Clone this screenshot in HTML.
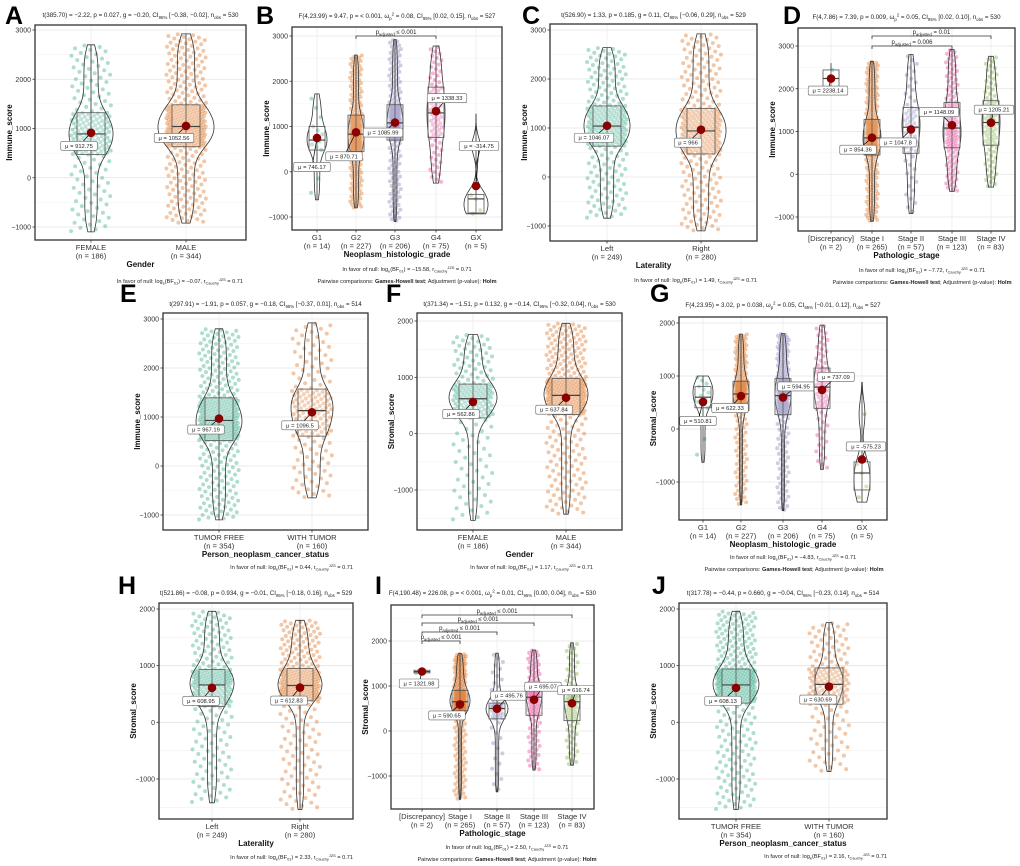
<!DOCTYPE html>
<html><head><meta charset="utf-8"><style>
html,body{margin:0;padding:0;background:#fff;}
svg{display:block;font-family:"Liberation Sans",Arial,sans-serif;}
</style></head><body>
<svg id="fig" width="1020" height="866" viewBox="0 0 1020 866" xmlns="http://www.w3.org/2000/svg"></svg>
<script>
// ---------- DATA (estimated from figure) ----------
const catsA=['FEMALE','MALE'];const nA=[186,344];
const meansA=[912.75,1052.56];const q1A=[470,630];const medA=[890,1040];const q3A=[1320,1480];const minA=[-1100,-920];const maxA=[2700,2920];
const catsB=['G1','G2','G3','G4','GX'];const nB=[14,227,206,75,5];
const meansB=[746.17,870.71,1085.99,1338.33,-314.75];const q1B=[480,450,700,760,-910];const medB=[700,830,1080,1300,-600];const q3B=[1000,1250,1480,1870,-500];const minB=[-620,-800,-1100,-250,-930];const maxB=[1720,2580,2920,2780,1280];
const catsC=['Left','Right'];const nC=[249,280];
const meansC=[1046.07,966];const q1C=[630,470];const medC=[1040,940];const q3C=[1450,1400];const minC=[-840,-1100];const maxC=[2640,2920];
const catsD=['[Discrepancy]','Stage I','Stage II','Stage III','Stage IV'];const nD=[2,265,57,123,83];
const meansD=[2238.14,854.36,1047.8,1148.09,1205.21];const q1D=[2020,450,490,620,680];const medD=[2240,850,1100,1080,1210];const q3D=[2440,1280,1560,1680,1720];const minD=[2020,-1100,-920,-400,-300];const maxD=[2600,2640,2800,2920,2760];
const catsE=['TUMOR FREE','WITH TUMOR'];const nE=[354,160];
const meansE=[967.19,1096.5];const q1E=[520,610];const medE=[930,1130];const q3E=[1390,1570];const minE=[-1100,-650];const maxE=[2800,2920];
const catsF=['FEMALE','MALE'];const nF=[186,344];
const meansF=[562.86,637.84];const q1F=[280,340];const medF=[620,680];const q3F=[880,980];const minF=[-1540,-1430];const maxF=[1760,1960];
const catsG=['G1','G2','G3','G4','GX'];const nG=[14,227,206,75,5];
const meansG=[510.81,622.33,594.95,737.09,-575.23];const q1G=[400,350,270,390,-1150];const medG=[600,660,630,790,-830];const q3G=[800,900,950,1150,-620];const minG=[-630,-1430,-1540,-760,-1380];const maxG=[1000,1790,1800,1960,880];
const catsH=['Left','Right'];const nH=[249,280];
const meansH=[608.95,612.83];const q1H=[280,380];const medH=[660,650];const q3H=[930,950];const minH=[-1420,-1540];const maxH=[1960,1800];
const catsI=['[Discrepancy]','Stage I','Stage II','Stage III','Stage IV'];const nI=[2,265,57,123,83];
const meansI=[1321.98,590.65,495.76,695.07,616.74];const q1I=[1290,450,270,350,230];const medI=[1320,650,500,750,650];const q3I=[1350,900,620,1000,900];const minI=[1300,-1520,-1350,-870,-760];const maxI=[1340,1720,1730,1800,1960];
const catsJ=['TUMOR FREE','WITH TUMOR'];const nJ=[354,160];
const meansJ=[608.13,630.69];const q1J=[340,320];const medJ=[660,670];const q3J=[940,960];const minJ=[-1540,-870];const maxJ=[1960,1760];
const immuneTicks=[-1000,0,1000,2000,3000];const stromalTicks=[-1000,0,1000,2000];

// ---------- LAYOUT ----------
const C2=['#1B9E77','#D95F02'];const C5=['#1B9E77','#D95F02','#7570B3','#E7298A','#66A61E'];
const PAIR='Pairwise comparisons: *{Games-Howell test}; Adjustment (p-value): *{Holm}';
function bf(v){return 'In favor of null: log_{e}(BF_{01}) = '+v+', r_{Cauchy}^{JZS} = 0.71';}
const P=[
{L:'A',lx:5,ly:24,box:[35,25,246,240],yref:[3000,30,-1000,227],ticks:immuneTicks,xp:[91,186],yt:'Immune_score',xt:'Gender',cats:catsA,n:nA,m:meansA,q1:q1A,md:medA,q3:q3A,lo:minA,hi:maxA,col:C2,vw:[22,28],bw:14,jit:20,lab:[[-12,13],[-12,12]],
 sub:'t(385.70) = −2.22, p = 0.027, g = −0.20, CI_{95%} [−0.38, −0.02], n_{obs} = 530',subY:17,foot:[[bf('−0.07'),243,283,'end']]},
{L:'B',lx:256,ly:24,box:[292,27,502,230],yref:[3000,36,-1000,217],ticks:immuneTicks,xp:[317,356,395,436,476],yt:'Immune_score',xt:'Neoplasm_histologic_grade',cats:catsB,n:nB,m:meansB,q1:q1B,md:medB,q3:q3B,lo:minB,hi:maxB,col:C5,vw:[10,8,8,9,12],bw:8,jit:6,lab:[[-5,29],[-12,24],[-12,10],[11,-13],[3,-40]],
 sub:'F(4,23.99) = 9.47, p = < 0.001, ω_{p}^{2} = 0.08, CI_{95%} [0.02, 0.15], n_{obs} = 527',subY:18,brk:[[1,3,36,'p_{adjusted} ≤ 0.001']],foot:[[bf('−15.58'),407,271,'middle'],[PAIR,407,283,'middle']]},
{L:'C',lx:522,ly:24,box:[550,24,757,241],yref:[3000,30,-1000,226],ticks:immuneTicks,xp:[607,701],yt:'Immune_score',xt:'Laterality',cats:catsC,n:nC,m:meansC,q1:q1C,md:medC,q3:q3C,lo:minC,hi:maxC,col:C2,vw:[23,25],bw:14,jit:20,lab:[[-13,12],[-13,13]],
 sub:'t(526.90) = 1.33, p = 0.185, g = 0.11, CI_{95%} [−0.06, 0.29], n_{obs} = 529',subY:17,foot:[[bf('1.49'),757,282,'end']]},
{L:'D',lx:783,ly:24,box:[798,28,1015,231],yref:[3000,46,-1000,217],ticks:immuneTicks,xp:[831,872,911,952,991],yt:'Immune_score',xt:'Pathologic_stage',cats:catsD,n:nD,m:meansD,q1:q1D,md:medD,q3:q3D,lo:minD,hi:maxD,col:C5,vw:[8,9,9,9,9],bw:8,jit:6,lab:[[-3,12],[-14,12],[-13,13],[-13,-13],[3,-13]],
 sub:'F(4,7.86) = 7.39, p = 0.009, ω_{p}^{2} = 0.05, CI_{95%} [0.02, 0.10], n_{obs} = 530',subY:19,brk:[[1,4,36,'p_{adjusted} = 0.01'],[1,3,46,'p_{adjusted} = 0.006']],foot:[[bf('−7.72'),922,272,'middle'],[PAIR,922,284,'middle']]},
{L:'E',lx:120,ly:302,box:[163,313,368,530],yref:[3000,319,-1000,515],ticks:immuneTicks,xp:[219,312],yt:'Immune_score',xt:'Person_neoplasm_cancer_status',cats:catsE,n:nE,m:meansE,q1:q1E,md:medE,q3:q3E,lo:minE,hi:maxE,col:C2,vw:[23,21],bw:14,jit:20,lab:[[-13,11],[-12,13]],
 sub:'t(297.91) = −1.91, p = 0.057, g = −0.18, CI_{95%} [−0.37, 0.01], n_{obs} = 514',subY:306,foot:[[bf('0.44'),353,569,'end']]},
{L:'F',lx:386,ly:302,box:[417,313,622,530],yref:[2000,321,-1000,490],ticks:stromalTicks,xp:[473,566],yt:'Stromal_score',xt:'Gender',cats:catsF,n:nF,m:meansF,q1:q1F,md:medF,q3:q3F,lo:minF,hi:maxF,col:C2,vw:[24,22],bw:14,jit:20,lab:[[-12,12],[-12,12]],
 sub:'t(371.34) = −1.51, p = 0.132, g = −0.14, CI_{95%} [−0.32, 0.04], n_{obs} = 530',subY:306,foot:[[bf('1.17'),593,569,'end']]},
{L:'G',lx:650,ly:302,box:[679,317,887,520],yref:[2000,323,-1000,482],ticks:stromalTicks,xp:[703,741,783,822,862],yt:'Stromal_score',xt:'Neoplasm_histologic_grade',cats:catsG,n:nG,m:meansG,q1:q1G,md:medG,q3:q3G,lo:minG,hi:maxG,col:C5,vw:[10,8,8,8,8],bw:8,jit:6,lab:[[-5,19],[-11,12],[13,-11],[14,-13],[4,-13]],
 sub:'F(4,23.95) = 3.02, p = 0.038, ω_{p}^{2} = 0.05, CI_{95%} [−0.01, 0.12], n_{obs} = 527',subY:307,foot:[[bf('−4.83'),793,559,'middle'],[PAIR,794,571,'middle']]},
{L:'H',lx:118,ly:594,box:[159,603,353,819],yref:[2000,609,-1000,779],ticks:stromalTicks,xp:[212,300],yt:'Stromal_score',xt:'Laterality',cats:catsH,n:nH,m:meansH,q1:q1H,md:medH,q3:q3H,lo:minH,hi:maxH,col:C2,vw:[22,22],bw:13,jit:20,lab:[[-11,13],[-11,13]],
 sub:'t(521.86) = −0.08, p = 0.934, g = −0.01, CI_{95%} [−0.18, 0.16], n_{obs} = 529',subY:595,foot:[[bf('2.33'),353,859,'end']]},
{L:'I',lx:375,ly:594,box:[391,605,594,809],yref:[2000,641,-1000,776],ticks:stromalTicks,xp:[422,460,497,534,572],yt:'Stromal_score',xt:'Pathologic_stage',cats:catsI,n:nI,m:meansI,q1:q1I,md:medI,q3:q3I,lo:minI,hi:maxI,col:C5,vw:[8,10,11,8,8],bw:8,jit:6,lab:[[-3,12],[-13,11],[12,-13],[9,-13],[4,-13]],
 sub:'F(4,190.48) = 226.08, p = < 0.001, ω_{p}^{2} = 0.01, CI_{95%} [0.00, 0.04], n_{obs} = 530',subY:595,brk:[[0,1,641,'p_{adjusted} ≤ 0.001'],[0,2,632,'p_{adjusted} ≤ 0.001'],[0,3,623,'p_{adjusted} ≤ 0.001'],[0,4,615,'p_{adjusted} ≤ 0.001']],foot:[[bf('2.50'),507,849,'middle'],[PAIR,507,861,'middle']]},
{L:'J',lx:652,ly:594,box:[679,603,887,819],yref:[2000,609,-1000,779],ticks:stromalTicks,xp:[736,829],yt:'Stromal_score',xt:'Person_neoplasm_cancer_status',cats:catsJ,n:nJ,m:meansJ,q1:q1J,md:medJ,q3:q3J,lo:minJ,hi:maxJ,col:C2,vw:[23,14],bw:14,jit:20,lab:[[-13,13],[-11,13]],
 sub:'t(317.78) = −0.44, p = 0.660, g = −0.04, CI_{95%} [−0.23, 0.14], n_{obs} = 514',subY:595,foot:[[bf('2.16'),887,858,'end']]}
];

// ---------- RENDER ----------
const NS='http://www.w3.org/2000/svg';const svg=document.getElementById('fig');
function mk(tag,at,parent){const e=document.createElementNS(NS,tag);for(const k in at)e.setAttribute(k,at[k]);(parent||svg).appendChild(e);return e;}
function rich(el,s,fs){
  const parts=s.split(/(_\{[^}]*\}|\^\{[^}]*\}|\*\{[^}]*\})/);let shifted=0;
  parts.forEach(p=>{if(!p)return;const t=document.createElementNS(NS,'tspan');
    if(p[0]==='_'&&p[1]==='{'){t.textContent=p.slice(2,-1);t.setAttribute('font-size',fs*0.7);t.setAttribute('dy',(fs*0.3-shifted));shifted=fs*0.3;}
    else if(p[0]==='^'&&p[1]==='{'){t.textContent=p.slice(2,-1);t.setAttribute('font-size',fs*0.7);t.setAttribute('dy',(-fs*0.4-shifted));shifted=-fs*0.4;}
    else if(p[0]==='*'&&p[1]==='{'){t.textContent=p.slice(2,-1);t.setAttribute('font-weight','bold');t.setAttribute('dy',-shifted);shifted=0;}
    else{t.textContent=p;t.setAttribute('dy',-shifted);shifted=0;}
    el.appendChild(t);});
}
function quant(g,u,p){const xs=[p.lo[g],p.q1[g],p.md[g],p.q3[g],p.hi[g]];const us=[0,.25,.5,.75,1];
  for(let k=0;k<4;k++){if(u<=us[k+1]){const f=(u-us[k])/(us[k+1]-us[k]);return xs[k]+f*(xs[k+1]-xs[k]);}}return xs[4];}

P.forEach(p=>{
  const [X0,Y0,X1,Y1]=p.box;const [v1,p1,v2,p2]=p.yref;
  const ys=v=>p1+(v-v1)*(p2-p1)/(v2-v1);
  const g=mk('g',{});
  const lt=mk('text',{x:p.lx,y:p.ly,'font-size':25,'font-weight':'bold',fill:'#000'},g);lt.textContent=p.L;
  
  const st=mk('text',{x:(X0+X1)/2,y:p.subY,'font-size':6.2,'text-anchor':'middle',fill:'#222'},g);rich(st,p.sub,6.2);
  
  mk('rect',{x:X0,y:Y0,width:X1-X0,height:Y1-Y0,fill:'#fff'},g);
  const step=p.ticks[1]-p.ticks[0];
  for(let v=p.ticks[0]-step/2;v<=p.ticks[p.ticks.length-1]+step;v+=step/2){const y=ys(v);if(y<Y0+1||y>Y1-1)continue;
    const major=p.ticks.includes(v);mk('line',{x1:X0,x2:X1,y1:y,y2:y,stroke:major?'#e4e4e4':'#f1f1f1','stroke-width':major?0.8:0.6},g);}
  p.xp.forEach(x=>mk('line',{x1:x,x2:x,y1:Y0,y2:Y1,stroke:'#ececec','stroke-width':0.8},g));
  p.cats.forEach((c,i)=>{
    const cx=p.xp[i];const col=p.col[i];const n=p.n[i];
    const gg=mk('g',{},g);
    const vals=[];for(let k=0;k<n;k++)vals.push(quant(i,(k+0.5)/n,p));
    vals.forEach((v,k)=>{const fr=((k*0.6180339887+0.31*i)%1)-0.5;const pt=mk('circle',{cx:cx+fr*2*p.jit,cy:ys(v),r:2.0,fill:col,'fill-opacity':0.35},gg);
      });
    if(n>=3){const mu=vals.reduce((a,b)=>a+b,0)/n;const sd=Math.sqrt(vals.reduce((a,b)=>a+(b-mu)*(b-mu),0)/n);
      const iqr=p.q3[i]-p.q1[i];let h=0.9*Math.min(sd,iqr/1.34||sd)*Math.pow(n,-0.2);h=Math.max(h,0.06*(p.hi[i]-p.lo[i]));
      const S=60,dens=[];for(let s=0;s<=S;s++){const v=p.lo[i]+(p.hi[i]-p.lo[i])*s/S;let d=0;vals.forEach(w=>{const z=(v-w)/h;d+=Math.exp(-0.5*z*z);});dens.push([v,d]);}
      const mx=Math.max(...dens.map(d=>d[1]));let L=[],R=[];
      dens.forEach(([v,d])=>{const w=d/mx*p.vw[i];L.push((cx-w).toFixed(1)+','+ys(v).toFixed(1));R.unshift((cx+w).toFixed(1)+','+ys(v).toFixed(1));});
      const vp=mk('polygon',{points:L.concat(R).join(' '),fill:'none',stroke:'#333','stroke-width':0.8},gg);
      }
    mk('line',{x1:cx,x2:cx,y1:ys(p.lo[i]),y2:ys(p.hi[i]),stroke:'#333','stroke-width':0.8},gg);
    const bx=mk('rect',{x:cx-p.bw,y:ys(p.q3[i]),width:2*p.bw,height:ys(p.q1[i])-ys(p.q3[i]),fill:'rgba(255,255,255,0.2)',stroke:'#555','stroke-width':0.8},gg);
    
    mk('line',{x1:cx-p.bw,x2:cx+p.bw,y1:ys(p.md[i]),y2:ys(p.md[i]),stroke:'#444','stroke-width':1.2},gg);
    const my=ys(p.m[i]);const [dx,dy]=p.lab[i];const lx=cx+dx,ly=my+dy;
    mk('line',{x1:cx,y1:my,x2:lx,y2:ly,stroke:'#000','stroke-width':0.7},gg);
    const txt='μ = '+p.m[i];const w=txt.length*3.05+6;
    const lr=mk('rect',{x:lx-w/2,y:ly-4.5,width:w,height:9,rx:1.5,fill:'#fff',stroke:'#666','stroke-width':0.6},gg);
    
    const tl=mk('text',{x:lx,y:ly+2,'font-size':5.8,'text-anchor':'middle',fill:'#222'},gg);tl.textContent=txt;
    const md=mk('circle',{cx:cx,cy:my,r:4.3,fill:'#8B0000'},gg);
    const t1=mk('text',{x:cx,y:Y1+10,'font-size':7.6,'text-anchor':'middle',fill:'#333'},g);t1.textContent=c;
    
    const t2=mk('text',{x:cx,y:Y1+18.5,'font-size':7.6,'text-anchor':'middle',fill:'#333'},g);t2.textContent='(n = '+n+')';
  });
  (p.brk||[]).forEach(b=>{const xa=p.xp[b[0]],xb=p.xp[b[1]],y=b[2];
    const br=mk('path',{d:`M${xa},${y+3}V${y}H${xb}V${y+3}`,fill:'none',stroke:'#333','stroke-width':0.8},g);
    
    const bt=mk('text',{x:(xa+xb)/2,y:y-2,'font-size':6,'text-anchor':'middle',fill:'#222'},g);rich(bt,b[3],6);});
  const fr=mk('rect',{x:X0,y:Y0,width:X1-X0,height:Y1-Y0,fill:'none',stroke:'#333','stroke-width':1.3},g);
  
  p.ticks.forEach(v=>{const y=ys(v);mk('line',{x1:X0-2.5,x2:X0,y1:y,y2:y,stroke:'#333','stroke-width':0.8},g);
    const t=mk('text',{x:X0-4,y:y+2.5,'font-size':7,'text-anchor':'end',fill:'#333'},g);t.textContent=(v<0?'−':'')+Math.abs(v);
    });
  p.xp.forEach(x=>mk('line',{x1:x,x2:x,y1:Y1,y2:Y1+2.5,stroke:'#333','stroke-width':0.8},g));
  const yt=mk('text',{x:0,y:0,'font-size':8,'font-weight':'bold','text-anchor':'middle',fill:'#111',transform:`translate(${X0-23},${(Y0+Y1)/2}) rotate(-90)`},g);yt.textContent=p.yt;
  
  const xt=mk('text',{x:(X0+X1)/2,y:Y1+27,'font-size':8,'font-weight':'bold','text-anchor':'middle',fill:'#111'},g);xt.textContent=p.xt;
  
  p.foot.forEach(f=>{const ft=mk('text',{x:f[1],y:f[2],'font-size':5.6,'text-anchor':f[3],fill:'#222'},g);rich(ft,f[0],5.6);
    });
});
</script>
</body></html>
